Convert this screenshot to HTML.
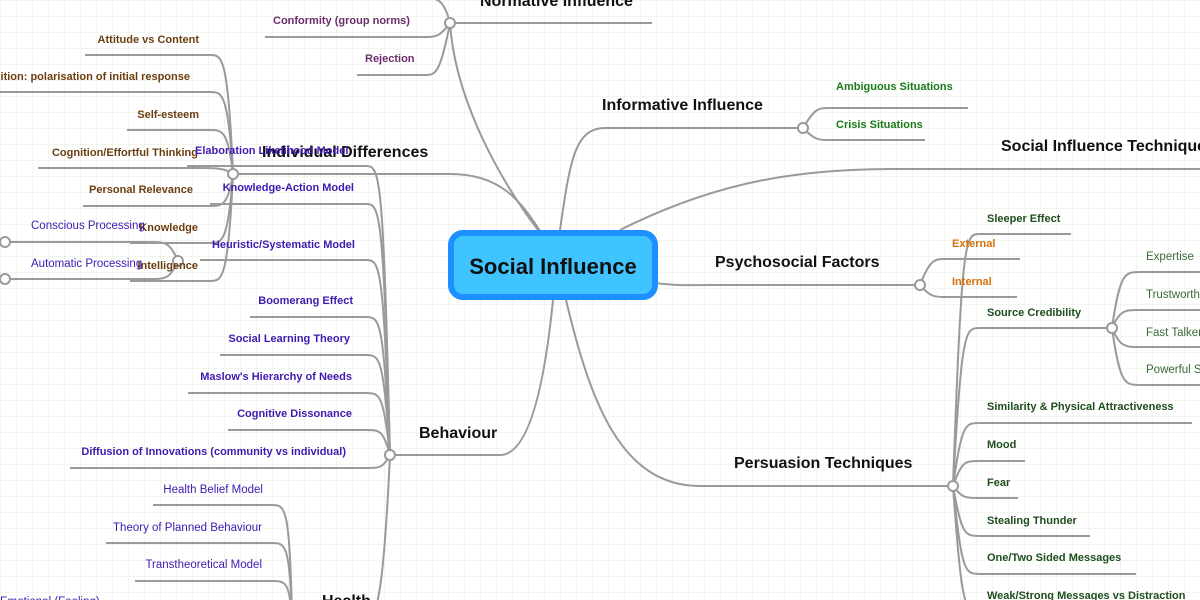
<!DOCTYPE html>
<html><head><meta charset="utf-8"><style>
html,body{margin:0;padding:0;background:#fff}
svg{display:block}
text{font-family:"Liberation Sans",sans-serif}
.m{font-size:16px;font-weight:bold;fill:#111}
.c{font-size:11px;font-weight:bold}
.r{font-size:11.5px}
.br{color:#6b3e10;fill:#6b3e10}
.pu{fill:#3f1ab0}
.mg{fill:#6b2d6b}
.gr{fill:#1a7a1a}
.dg{fill:#1e4d1e}
.or{fill:#d4700a}
.rg{fill:#3a6a3a}
path{fill:none;stroke:#9a9a9a;stroke-width:2}
circle{fill:#fff;stroke:#9a9a9a;stroke-width:2}
</style></head><body>
<svg width="1200" height="600" viewBox="0 0 1200 600" xmlns="http://www.w3.org/2000/svg">
<defs><pattern id="g" width="16" height="16" patternUnits="userSpaceOnUse"><path d="M16 0 L0 0 0 16" style="stroke:#e6eedd;stroke-width:1"/></pattern></defs>
<rect width="1200" height="600" fill="url(#g)"/>

<!-- Normative -->
<path d="M450 23 C455 100,500 180,538 230"/>
<path d="M450 23 L652 23"/>
<path d="M450 23 C444 0,438 -2,425 -2 L270 -2"/>
<path d="M450 23 C440 37,435 37,425 37 L265 37"/>
<path d="M450 23 C440 75,435 75,425 75 L357 75"/>
<circle cx="450" cy="23" r="5"/>

<!-- Individual differences -->
<path d="M233 174 L450 174 C500 174,520 200,540 231"/>
<path d="M233 174 C228 55,222 55,210 55 L85 55"/>
<path d="M233 174 C228 92,222 92,210 92 L0 92"/>
<path d="M233 174 C228 130,222 130,210 130 L127 130"/>
<path d="M233 174 C225 168,215 168,200 168 L38 168"/>
<path d="M233 174 C228 206,222 206,210 206 L83 206"/>
<path d="M233 174 C228 243,222 243,210 243 L130 243"/>
<path d="M233 174 C228 281,222 281,210 281 L130 281"/>
<path d="M178 261 C170 242,165 242,150 242 L5 242"/>
<path d="M178 261 C170 279,165 279,150 279 L5 279"/>
<circle cx="178" cy="261" r="5"/>
<circle cx="5" cy="242" r="5"/>
<circle cx="5" cy="279" r="5"/>
<circle cx="233" cy="174" r="5"/>

<!-- Behaviour -->
<path d="M390 455 L500 455 C530 455,545 380,553 300"/>
<path d="M390 455 C383 166,380 166,365 166 L187 166"/>
<path d="M390 455 C383 204,380 204,365 204 L210 204"/>
<path d="M390 455 C383 260,380 260,365 260 L200 260"/>
<path d="M390 455 C383 317,380 317,365 317 L250 317"/>
<path d="M390 455 C383 355,380 355,365 355 L220 355"/>
<path d="M390 455 C383 393,380 393,365 393 L188 393"/>
<path d="M390 455 C383 430,380 430,365 430 L228 430"/>
<path d="M390 455 C383 468,380 468,365 468 L70 468"/>
<path d="M390 455 C385 560,380 610,370 620"/>
<path d="M292 620 C290 505,285 505,272 505 L153 505"/>
<path d="M292 620 C290 543,285 543,272 543 L106 543"/>
<path d="M292 620 C290 581,285 581,272 581 L135 581"/>
<circle cx="390" cy="455" r="5"/>

<!-- Informative -->
<path d="M560 230 C570 160,575 128,605 128 L803 128"/>
<path d="M803 128 C815 108,818 108,830 108 L968 108"/>
<path d="M803 128 C815 140,818 140,830 140 L925 140"/>
<circle cx="803" cy="128" r="5"/>

<!-- SIT -->
<path d="M620 230 C720 180,800 169,900 169 L1200 169"/>

<!-- Psychosocial -->
<path d="M655 283 C680 286,690 285,710 285 L920 285"/>
<path d="M920 285 C930 259,935 259,945 259 L1020 259"/>
<path d="M920 285 C930 297,935 297,945 297 L1017 297"/>
<circle cx="920" cy="285" r="5"/>

<!-- Persuasion -->
<path d="M566 300 C590 400,620 486,700 486 L953 486"/>
<path d="M953 486 C962 234,965 234,980 234 L1071 234"/>
<path d="M953 486 C962 328,965 328,980 328 L1112 328"/>
<path d="M953 486 C962 423,965 423,980 423 L1192 423"/>
<path d="M953 486 C962 461,965 461,980 461 L1025 461"/>
<path d="M953 486 C962 498,965 498,980 498 L1018 498"/>
<path d="M953 486 C962 536,965 536,980 536 L1090 536"/>
<path d="M953 486 C962 574,965 574,980 574 L1136 574"/>
<path d="M953 486 C962 612,965 612,980 612 L1200 612"/>
<path d="M1112 328 C1120 272,1125 272,1140 272 L1200 272"/>
<path d="M1112 328 C1120 310,1125 310,1140 310 L1200 310"/>
<path d="M1112 328 C1120 347,1125 347,1140 347 L1200 347"/>
<path d="M1112 328 C1120 385,1125 385,1140 385 L1200 385"/>
<circle cx="1112" cy="328" r="5"/>
<circle cx="953" cy="486" r="5"/>

<!-- Center -->
<rect x="451" y="233" width="204" height="64" rx="12" fill="#40c4ff" stroke="#1e8fff" stroke-width="6"/>
<text x="553" y="274" text-anchor="middle" style="font-size:22px;font-weight:bold;fill:#111">Social Influence</text>

<!-- Main labels -->
<text class="m" x="480" y="6">Normative Influence</text>
<text class="m" x="262" y="157">Individual Differences</text>
<text class="m" x="419" y="438">Behaviour</text>
<text class="m" x="322" y="606">Health</text>
<text class="m" x="602" y="110">Informative Influence</text>
<text class="m" x="1001" y="151">Social Influence Techniques</text>
<text class="m" x="715" y="267">Psychosocial Factors</text>
<text class="m" x="734" y="468">Persuasion Techniques</text>

<!-- Normative children -->
<text class="c mg" x="273" y="24">Conformity (group norms)</text>
<text class="c mg" x="365" y="62">Rejection</text>

<!-- ID children -->
<g text-anchor="end">
<text class="c br" x="199" y="43">Attitude vs Content</text>
<text class="c br" x="190" y="80">Need for Cognition: polarisation of initial response</text>
<text class="c br" x="199" y="118">Self-esteem</text>
<text class="c br" x="198" y="156">Cognition/Effortful Thinking</text>
<text class="c br" x="193" y="193">Personal Relevance</text>
<text class="c br" x="198" y="231">Knowledge</text>
<text class="c br" x="198" y="269">Intelligence</text>
<text class="c pu" x="354" y="191">Knowledge-Action Model</text>
<text class="c pu" x="355" y="248">Heuristic/Systematic Model</text>
<text class="c pu" x="353" y="304">Boomerang Effect</text>
<text class="c pu" x="350" y="342">Social Learning Theory</text>
<text class="c pu" x="352" y="380">Maslow's Hierarchy of Needs</text>
<text class="c pu" x="352" y="417">Cognitive Dissonance</text>
<text class="c pu" x="346" y="455">Diffusion of Innovations (community vs individual)</text>
<text class="r pu" x="263" y="493">Health Belief Model</text>
<text class="r pu" x="262" y="531">Theory of Planned Behaviour</text>
<text class="r pu" x="262" y="568">Transtheoretical Model</text>
</g>
<text class="r pu" x="31" y="229">Conscious Processing</text>
<text class="r pu" x="31" y="267">Automatic Processing</text>
<text class="c pu" x="195" y="154">Elaboration Likelihood Model</text>
<text class="r pu" x="0" y="605">Emotional (Feeling)</text>

<!-- Informative children -->
<text class="c gr" x="836" y="90">Ambiguous Situations</text>
<text class="c gr" x="836" y="128">Crisis Situations</text>

<!-- Psychosocial -->
<text class="c or" x="952" y="247">External</text>
<text class="c or" x="952" y="285">Internal</text>

<!-- Persuasion -->
<text class="c dg" x="987" y="222">Sleeper Effect</text>
<text class="c dg" x="987" y="316">Source Credibility</text>
<text class="c dg" x="987" y="410">Similarity &amp; Physical Attractiveness</text>
<text class="c dg" x="987" y="448">Mood</text>
<text class="c dg" x="987" y="486">Fear</text>
<text class="c dg" x="987" y="524">Stealing Thunder</text>
<text class="c dg" x="987" y="561">One/Two Sided Messages</text>
<text class="c dg" x="987" y="599">Weak/Strong Messages vs Distraction</text>
<text class="r rg" x="1146" y="260">Expertise</text>
<text class="r rg" x="1146" y="298">Trustworthiness</text>
<text class="r rg" x="1146" y="336">Fast Talker</text>
<text class="r rg" x="1146" y="373">Powerful Speaker</text>
</svg>
</body></html>
